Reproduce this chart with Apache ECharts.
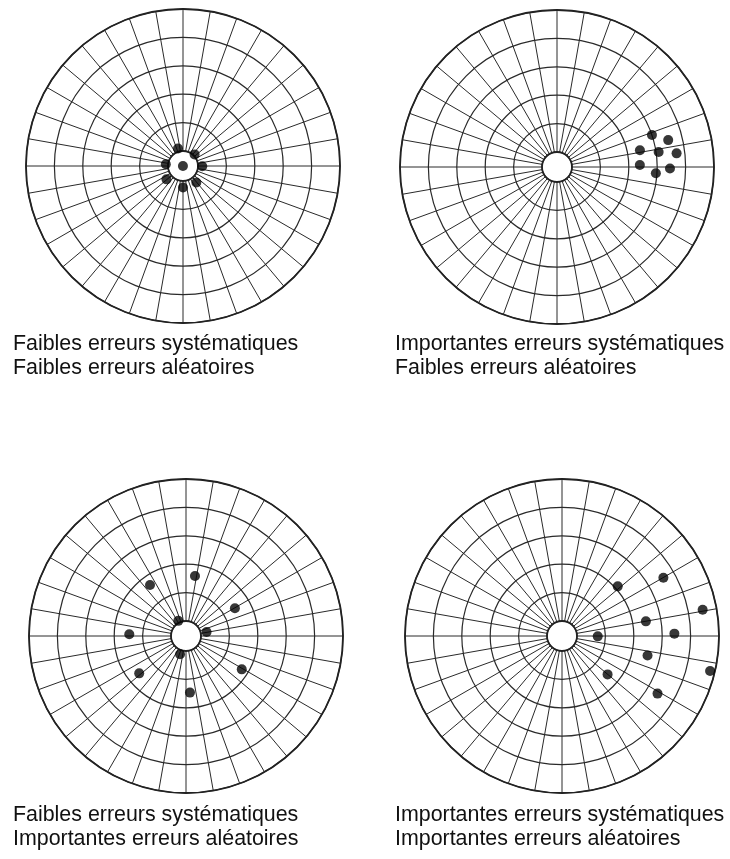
<!DOCTYPE html>
<html>
<head>
<meta charset="utf-8">
<script src="https://cdn.jsdelivr.net/npm/echarts@6/dist/echarts.min.js"></script>
<style>html,body{margin:0;padding:0;background:#fff;}#c{width:730px;height:859px;}</style>
</head>
<body>
<div id="c"></div>
<script>
// Ring values (radius axis units) and spoke angles (degrees)
const ringTicks = [0, 1, 2, 3, 4, 5];
// Panel captions
const captions = [
  'Faibles erreurs systématiques\nFaibles erreurs aléatoires',
  'Importantes erreurs systématiques\nFaibles erreurs aléatoires',
  'Faibles erreurs systématiques\nImportantes erreurs aléatoires',
  'Importantes erreurs systématiques\nImportantes erreurs aléatoires'
];
// Shot positions: radius (rings from the inner hole) and angle (deg, counter-clockwise from 3 o'clock)
const tlRadius = [-0.53, 0.11, 0.05, 0.08, 0.15, 0.22, 0.22, 0.23];
const tlAngle  = [0, 106, 45, 174, 359, 219, 309, 270];
const trRadius = [3.00, 3.50, 2.45, 3.09, 3.71, 2.39, 3.45, 2.96];
const trAngle  = [18.6, 13.6, 11.4, 8.4, 6.5, 1.4, 359.2, 356.4];
const blRadius = [1.61, 1.67, 1.45, 0.07, 0.21, 1.47, 0.15, 1.58, 1.76, 1.47];
const blAngle  = [81.5, 125.2, 29.5, 117, 10.9, 178.3, 252, 218.6, 329.1, 274];
const brRadius = [2.10, 3.59, 4.51, 2.47, 0.73, 3.43, 2.56, 4.83, 1.57, 3.40];
const brAngle  = [41.7, 29.9, 10.6, 9.9, 359.4, 1.2, 347.2, 346.7, 319.9, 328.9];

const panels = [
  {r: tlRadius, a: tlAngle, center: [183, 166], text: [13, 332]},
  {r: trRadius, a: trAngle, center: [557, 167], text: [395, 332]},
  {r: blRadius, a: blAngle, center: [186, 636], text: [13, 803]},
  {r: brRadius, a: brAngle, center: [562, 636], text: [395, 803]}
];

const lineColor = '#2a2a2a';
const option = {
  animation: false,
  backgroundColor: '#fff',
  polar: panels.map(p => ({center: p.center, radius: [15, 157]})),
  angleAxis: panels.map((p, i) => ({
    polarIndex: i, type: 'value', min: 0, max: 360, interval: 10,
    startAngle: 0, clockwise: false,
    axisLine: {show: true, lineStyle: {color: '#222', width: 1.8}},
    axisTick: {show: false}, axisLabel: {show: false},
    splitLine: {show: true, lineStyle: {color: lineColor, width: 1}}
  })),
  radiusAxis: panels.map((p, i) => ({
    polarIndex: i, type: 'value', min: ringTicks[0], max: ringTicks[ringTicks.length - 1], interval: 1,
    axisLine: {show: false}, axisTick: {show: false}, axisLabel: {show: false},
    splitLine: {show: true, lineStyle: {color: lineColor, width: 1.2}}
  })),
  series: panels.map((p, i) => ({
    type: 'scatter', coordinateSystem: 'polar', polarIndex: i, clip: false,
    symbol: 'circle', symbolSize: 10,
    itemStyle: {color: '#050505'},
    data: p.r.map((r, k) => [r, p.a[k]])
  })),
  graphic: panels.map((p, i) => ({
    type: 'text', left: p.text[0], top: p.text[1],
    style: {text: captions[i], fill: '#111', font: '21.4px "Liberation Sans", Arial, sans-serif', lineHeight: 24}
  }))
};
echarts.init(document.getElementById('c'), null, {renderer: 'canvas'}).setOption(option);
</script>
</body>
</html>
